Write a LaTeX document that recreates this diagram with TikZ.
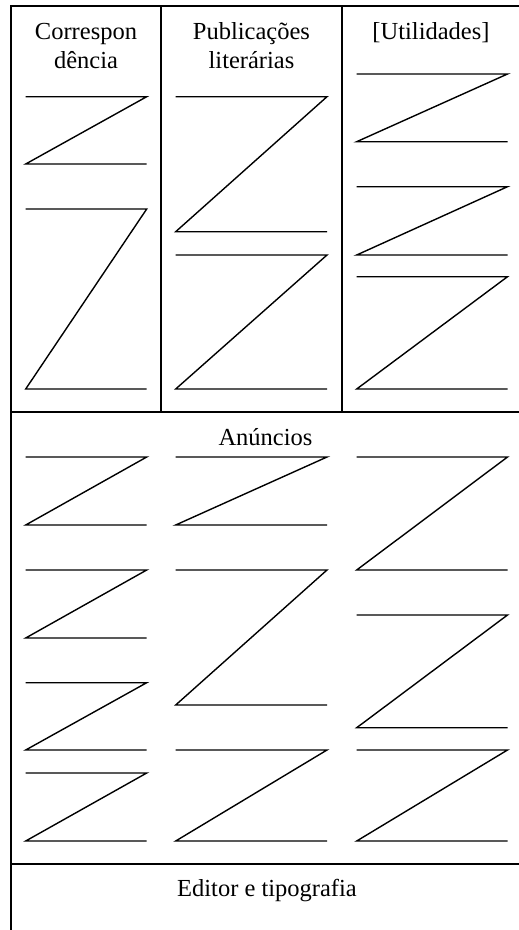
\documentclass[tikz,border=0pt]{standalone}
\usepackage{fontspec}
\setmainfont{Liberation Serif}
\usetikzlibrary{positioning}

\begin{document}
\begin{tikzpicture}[x=1pt, y=-1pt,
  frame/.style={line width=1.7pt},
  zline/.style={line width=1.4pt, line join=miter, miter limit=20},
  lbl/.style={font=\fontsize{24.5}{28.7}\selectfont, align=center,
              anchor=base, inner sep=0pt}
]
\useasboundingbox (0,0) rectangle (519,930);

% Frame and dividers
\draw[frame] (11,930) -- (11,6) -- (519,6);
\draw[frame] (11,412) -- (519,412);
\draw[frame] (11,864) -- (519,864);
\draw[frame] (161,6) -- (161,412);
\draw[frame] (342,6) -- (342,412);

% Section headers (base = last line)
\node[lbl] (corr) at (86,68)  {Correspon\\dência};
\node[lbl] (publ) at (251.5,68) {Publicações\\literárias};
\node[lbl] (util) at (431,39.3) {[Utilidades]};
\node[lbl] (anun) at (265.5,445) {Anúncios};
\node[lbl] (edit) at (267,896) {Editor e tipografia};

% Z marks: x-left/x-right/y-top/y-bottom
% upper columns
\foreach \xl/\xr/\yt/\yb in {25.7/146.7/96.7/164, 25.7/146.7/209/389,
    175.7/327/96.7/231.7, 175.7/327/255/389,
    356.7/507.5/74/141.7, 356.7/507.5/186.7/255, 356.7/507.5/276.7/389}{%
  \draw[zline] (\xl,\yt) -- (\xr,\yt) -- (\xl,\yb) -- (\xr,\yb);}
% advertisements
\foreach \xl/\xr/\yt/\yb in {25.7/146.7/457/525, 25.7/146.7/570/638,
    25.7/146.7/682.7/750, 25.7/146.7/773/841,
    175.7/327/457/525, 175.7/327/570/705, 175.7/327/750/841,
    356.7/507.5/457/570, 356.7/507.5/615/727.7, 356.7/507.5/750/841}{%
  \draw[zline] (\xl,\yt) -- (\xr,\yt) -- (\xl,\yb) -- (\xr,\yb);}
\end{tikzpicture}
\end{document}
